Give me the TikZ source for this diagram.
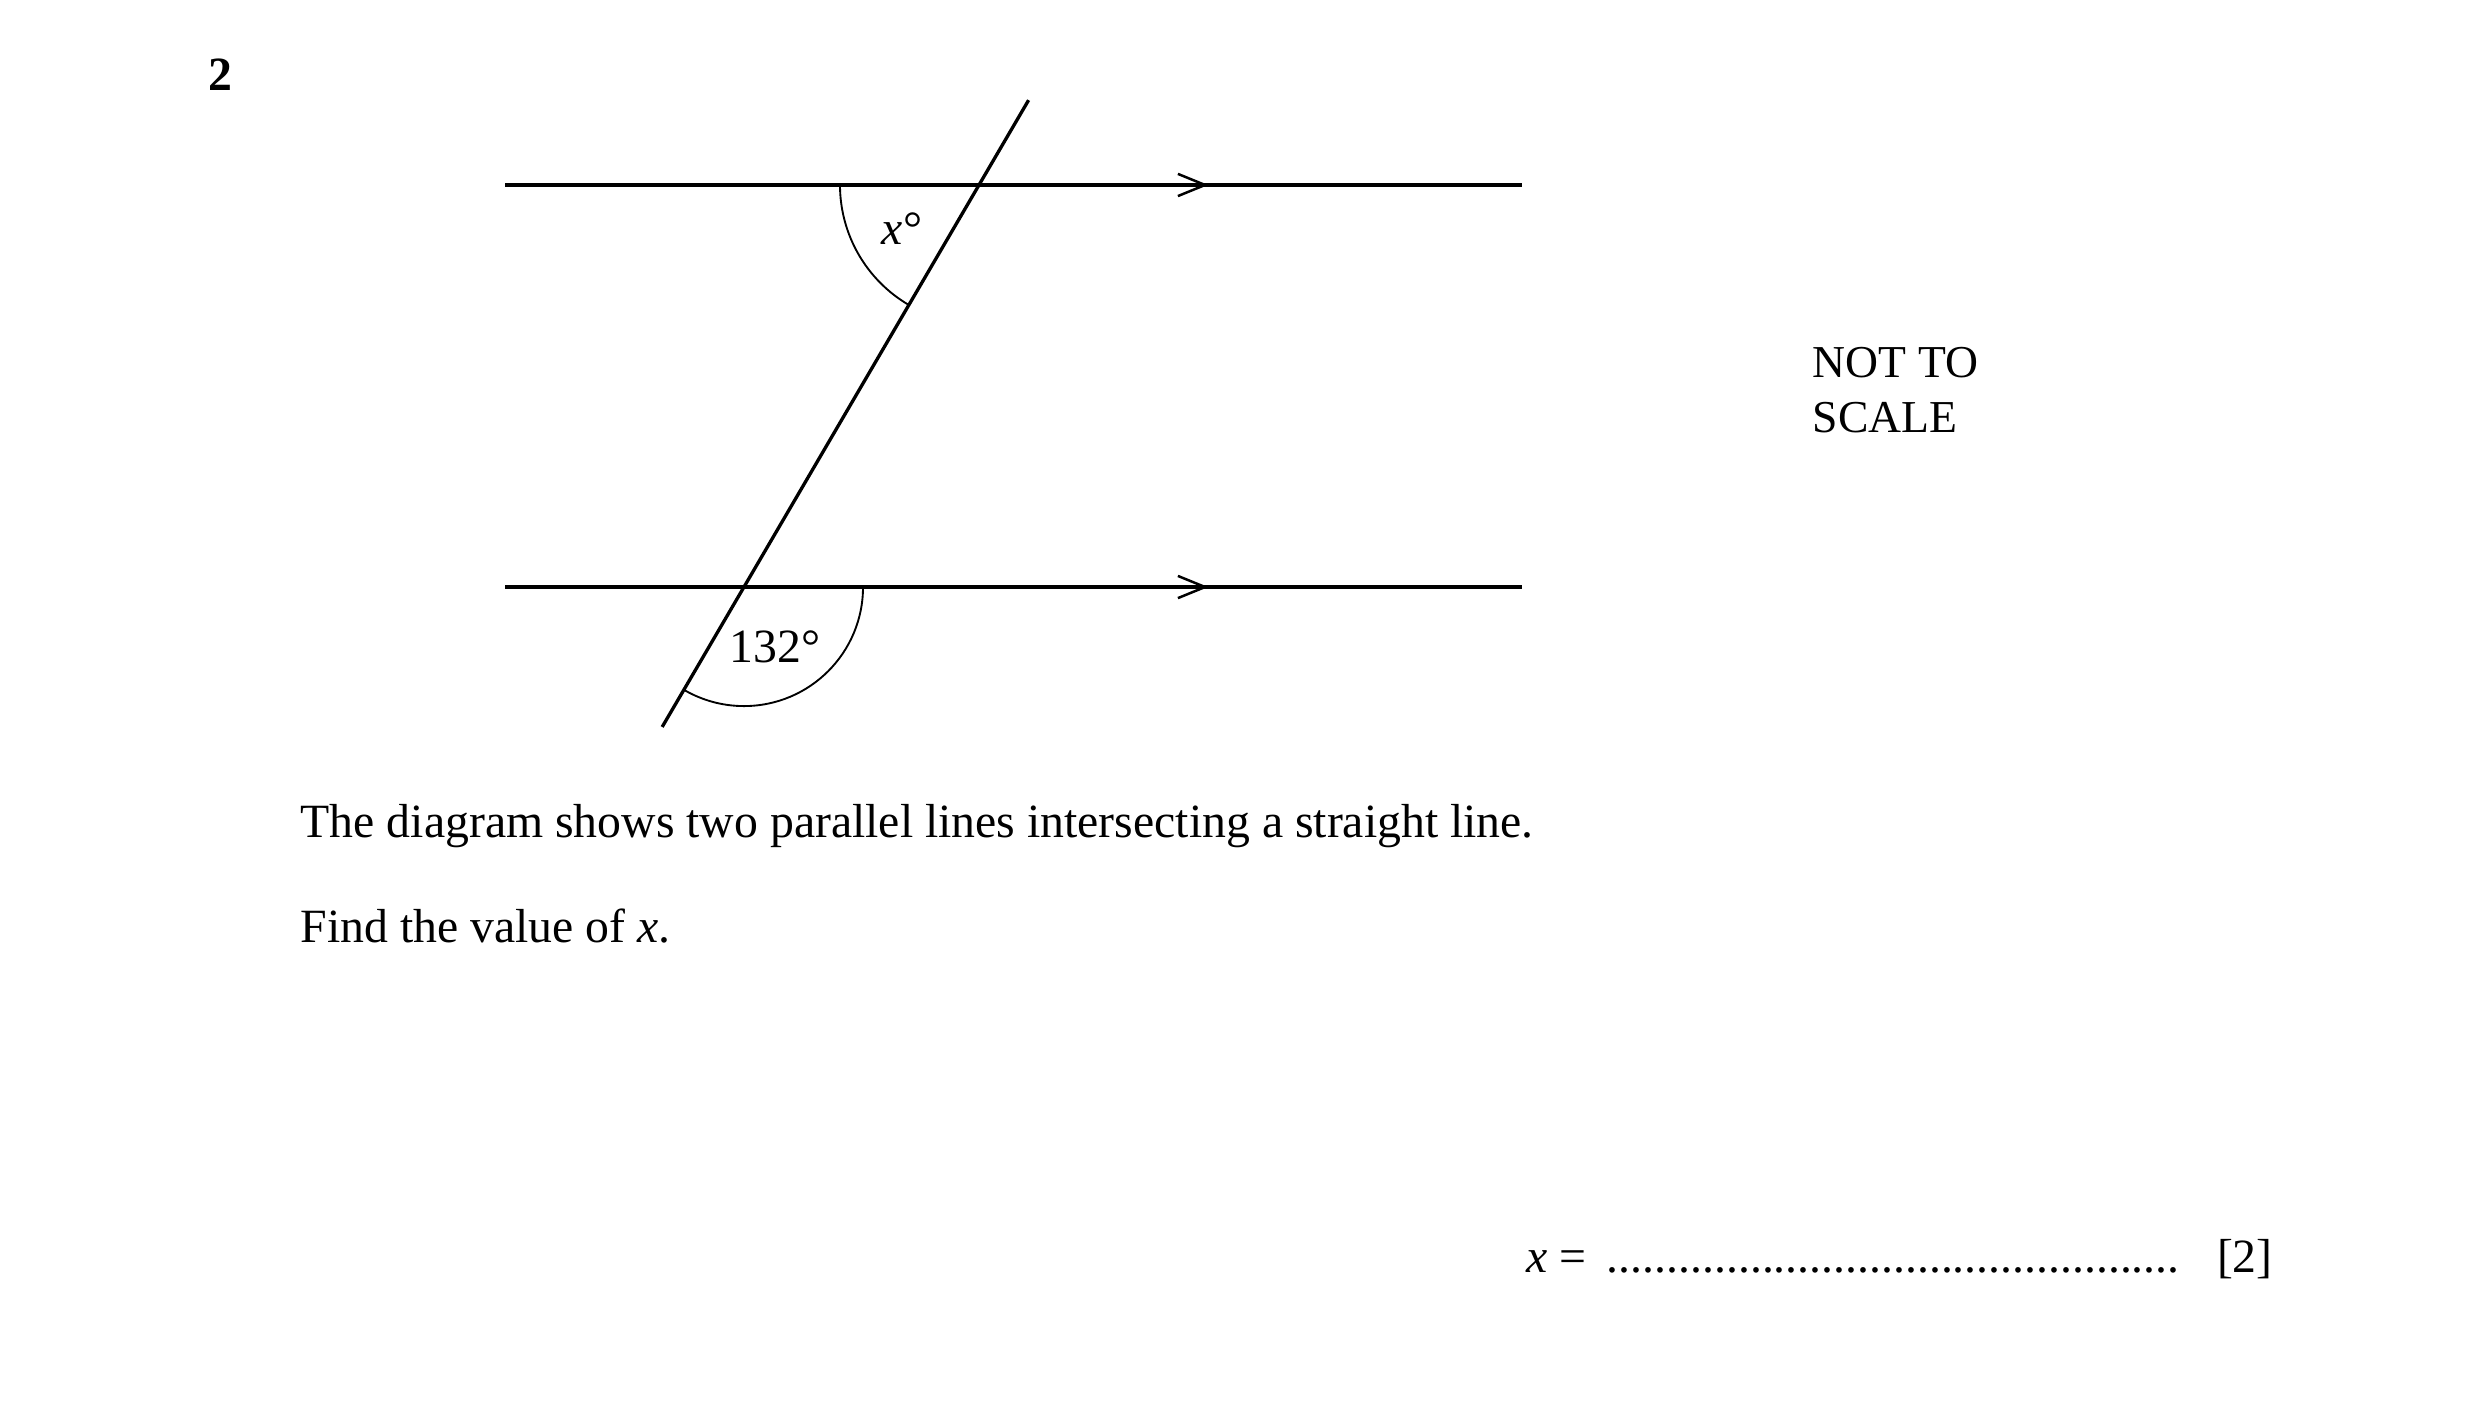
\documentclass[tikz,border=0pt]{standalone}
\usepackage{fontspec}
\setmainfont{Liberation Serif}
\usetikzlibrary{calc}

\begin{document}
\begin{tikzpicture}[font=\fontsize{11.5}{13.2}\selectfont, every node/.style={inner sep=0pt}]
	\useasboundingbox (0,0) rectangle (21.006,-12.074);

	\coordinate (P) at (8.289,-1.566);
	\coordinate (Q) at (6.299,-4.970);

	\foreach \y in {-1.566,-4.970} {
		\draw[line width=0.8pt] (4.276,\y) to (12.887,\y);
		\draw[line width=0.6pt] (9.973,\y+0.094) to (10.203,\y) to (9.973,\y-0.094);
	}

	\draw[line width=0.8pt] ($(Q)!-0.348!(P)$) to ($(P)!-0.211!(Q)$);
	\draw[line width=0.45pt] ([xshift=-1.177cm]P) arc[start angle=180, end angle=239.69, radius=1.177];
	\draw[line width=0.45pt] ([xshift=1.008cm]Q) arc[start angle=0, end angle=-120.31, radius=1.008];

	\node (xangle) at (7.637,-1.939) {\textit{x}°};
	\node (givenangle) at (6.562,-5.478) {132°};

	\node[anchor=base west, font=\fontsize{11.5}{13.2}\selectfont\bfseries] (qnum) at (1.761,-0.762) {2};
	\node[anchor=north west, align=left, font=\fontsize{11}{13.2}\selectfont] (notscale) at (15.342,-2.935) {NOT TO\\SCALE};
	\node[anchor=base west] (stem) at (2.540,-7.087) {The diagram shows two parallel lines intersecting a straight line.};
	\node[anchor=base west] (task) at (2.540,-7.976) {Find the value of \textit{x}.};
	\node[anchor=base east] (answer) at (19.25,-10.77) {\textit{x} =\hspace{5pt}................................................\hspace{9pt}[2]};
\end{tikzpicture}
\end{document}
